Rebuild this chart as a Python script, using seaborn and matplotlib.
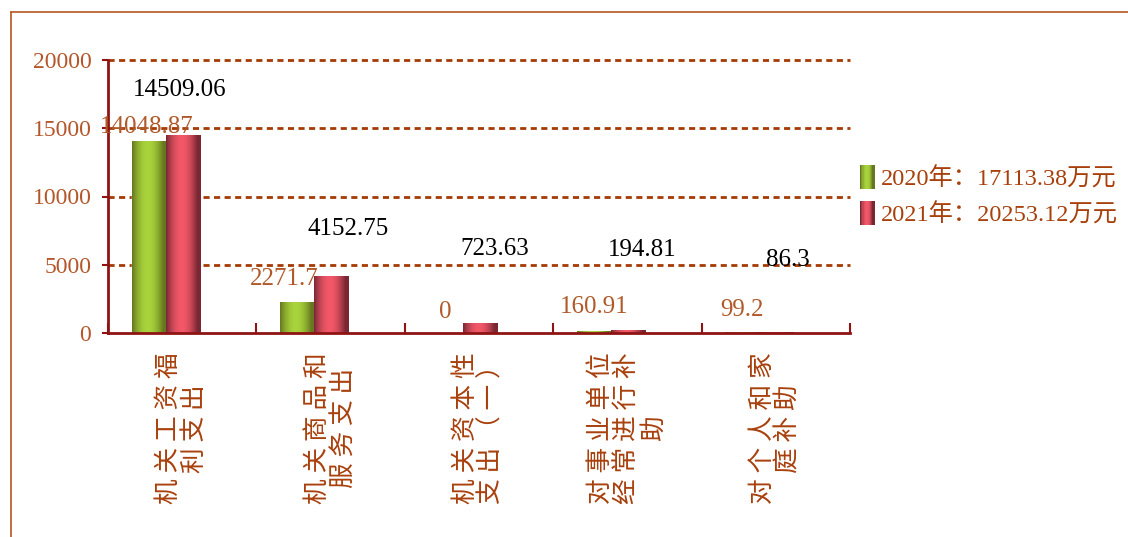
import matplotlib
matplotlib.use("Agg")
import matplotlib.pyplot as plt
import numpy as np
import pandas as pd
import seaborn as sns
from matplotlib.colors import to_rgb
from matplotlib.legend_handler import HandlerBase
from matplotlib.lines import Line2D
from matplotlib.patches import Rectangle

# --- data -------------------------------------------------------------------
categories = ["机关工资福利支出", "机关商品和服务支出", "机关资本性支出（一）",
              "对事业单位经常进行补助", "对个人和家庭补助"]
years = ["2020年", "2021年"]
values_2020 = [14048.87, 2271.7, 0, 160.91, 99.2]
values_2021 = [14509.06, 4152.75, 723.63, 194.81, 86.3]
totals = [17113.38, 20253.12]
y_ticks = [0, 5000, 10000, 15000, 20000]

# --- styles -----------------------------------------------------------------
GREEN = ("#66781f", "#a9d43c")   # dark edge, bright centre
RED = ("#7a2734", "#f25868")
BROWN = "#a8400c"
TICK_BROWN = "#b4562a"
LABEL_BROWN = "#b05a2a"
SPINE = "#8e1414"
GRID = "#a53a05"
NUM_FONT = ["Liberation Serif", "Noto Sans CJK SC"]
CJK_FONT = ["Noto Sans CJK SC", "DejaVu Sans"]

# label offsets in pixels (dx, dy) relative to the top centre of each bar
off_2020 = [(-2, 14), (-13, 23), (0, 21), (0, 24), (0, 22)]
off_2021 = [(-3, 45), (17, 47), (15, 74), (14, 80), (11, 72)]

sns.set_theme(style="white")
plt.rcParams["font.family"] = NUM_FONT


def fmt(v):
    return f"{v:.2f}".rstrip("0").rstrip(".")


def wrap(text, n=5):
    # five characters per line, loosely spaced like the original
    chunks = [text[i:i + n] for i in range(0, len(text), n)]
    return "\n".join(" ".join(c) for c in chunks)


def gradient(dark, light, n=64):
    t = np.linspace(0, 1, n)
    prof = np.clip(np.sin(np.pi * np.clip(t / 0.9, 0, 1)) ** 0.9, 0, 1)
    d, l = np.array(to_rgb(dark)), np.array(to_rgb(light))
    return (d[None, :] + (l - d)[None, :] * prof[:, None])[None, :, :]


class GradientHandler(HandlerBase):
    def __init__(self, dark, light):
        super().__init__()
        self.cols = gradient(dark, light, 12)[0]

    def create_artists(self, legend, orig_handle, xdescent, ydescent,
                       width, height, fontsize, trans):
        n = len(self.cols)
        arts = []
        for i, c in enumerate(self.cols):
            r = Rectangle((-xdescent + width * i / n, -ydescent - 2),
                          width / n + 0.3, height + 4, facecolor=c,
                          edgecolor="none", transform=trans)
            arts.append(r)
        return arts


df = pd.DataFrame({
    "category": categories * 2,
    "year": [years[0]] * len(categories) + [years[1]] * len(categories),
    "value": values_2020 + values_2021,
})

fig = plt.figure(figsize=(11.28, 5.37), dpi=100)
ax = fig.add_axes([108 / 1128, 1 - 333 / 537, 742 / 1128, 273 / 537])

sns.barplot(data=df, x="category", y="value", hue="year", hue_order=years,
            palette=[GREEN[1], RED[1]], width=0.46, gap=0, legend=False,
            errorbar=None, ax=ax, zorder=3)

# shaded (cylinder-like) fill for every bar
shades = [GREEN] * len(categories) + [RED] * len(categories)
for patch, (dark, light) in zip(ax.patches, shades):
    h = patch.get_height()
    if h <= 0:
        continue
    x, w = patch.get_x(), patch.get_width()
    im = ax.imshow(gradient(dark, light), extent=[x, x + w, 0, h],
                   aspect="auto", interpolation="bilinear", zorder=4)
    im.set_clip_path(patch)

# data labels
bars_2020 = ax.patches[:len(categories)]
bars_2021 = ax.patches[len(categories):]
for bar, v, (dx, dy) in zip(bars_2020, values_2020, off_2020):
    ax.annotate(fmt(v), (bar.get_x() + bar.get_width() / 2, v),
                xytext=(dx, dy), textcoords="offset pixels",
                ha="center", va="center", fontsize=18, color=LABEL_BROWN,
                zorder=6)
for bar, v, (dx, dy) in zip(bars_2021, values_2021, off_2021):
    ax.annotate(fmt(v), (bar.get_x() + bar.get_width() / 2, v),
                xytext=(dx, dy), textcoords="offset pixels",
                ha="center", va="center", fontsize=18, color="black",
                zorder=6)

# axes
n = len(categories)
ax.set_xlim(-0.39, n - 0.39)
ax.set_ylim(0, 20000)
ax.set_yticks(y_ticks)
ax.set_yticklabels([str(t) for t in y_ticks], fontsize=17, color=TICK_BROWN)
ax.tick_params(axis="y", which="major", direction="out", length=4, width=1.5,
               color=SPINE, pad=8, left=True)

ax.set_xticks([-0.39 + k for k in range(n + 1)])
ax.set_xticklabels([""] * (n + 1))
ax.tick_params(axis="x", which="major", direction="in", length=7, width=1.5,
               color=SPINE, bottom=True)
ax.set_xticks([i + 0.11 for i in range(n)], minor=True)
ax.set_xticklabels([wrap(c) for c in categories], minor=True, rotation=90,
                   fontsize=18.5, color=BROWN, family=CJK_FONT,
                   linespacing=1.0)
for lab in ax.get_xticklabels(minor=True):
    lab.set_multialignment("center")
ax.tick_params(axis="x", which="minor", length=0, pad=14)

ax.set_xlabel("")
ax.set_ylabel("")
for s in ["top", "right"]:
    ax.spines[s].set_visible(False)
for s in ["left", "bottom"]:
    ax.spines[s].set_color(SPINE)
    ax.spines[s].set_linewidth(2)
    ax.spines[s].set_zorder(5)

for t in y_ticks[1:]:
    ax.axhline(t, color=GRID, lw=2, ls=(0, (2.2, 1.6)), zorder=1,
               clip_on=False)

# legend
handles = [Line2D([], []), Line2D([], [])]
labels = [f"{y}：{fmt(t)}万元" for y, t in zip(years, totals)]
fig.legend(handles, labels, loc="upper left",
           bbox_to_anchor=(860 / 1128, 1 - 167 / 537),
           frameon=False, fontsize=17.5, labelcolor=BROWN,
           handlelength=0.6, handleheight=0.8, handletextpad=0.25,
           labelspacing=0.55, borderpad=0, borderaxespad=0,
           handler_map={handles[0]: GradientHandler(*GREEN),
                        handles[1]: GradientHandler(*RED)})

# outer frame (left and top edges)
fig.add_artist(Line2D([11 / 1128, 11 / 1128], [0, 1 - 12 / 537],
                      color="#b5551f", lw=1.2))
fig.add_artist(Line2D([11 / 1128, 1], [1 - 12 / 537, 1 - 12 / 537],
                      color="#b5551f", lw=1.2))

fig.savefig("out.png", dpi=100)
